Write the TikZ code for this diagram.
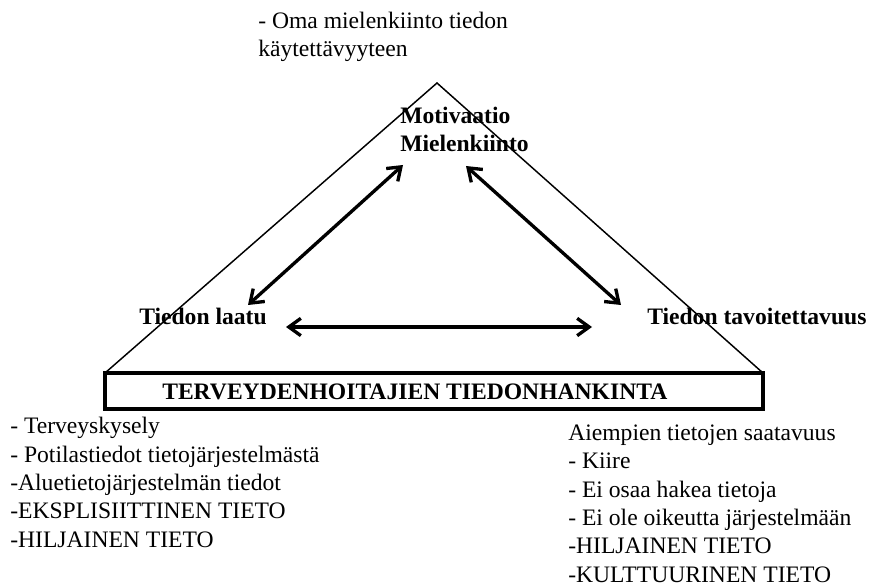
\documentclass[tikz,border=0pt]{standalone}
\usepackage{fontspec}
\setmainfont{Liberation Serif}
\usetikzlibrary{arrows.meta}

\begin{document}
\begin{tikzpicture}[x=0.75pt,y=0.75pt,yscale=-1,xscale=1,
  txt/.style={anchor=base west,inner sep=0pt,align=left,font=\fontsize{17.7}{21.2}\selectfont},
  btxt/.style={txt,font=\fontsize{17.7}{21.2}\selectfont\bfseries},
  dblarr/.style={line width=2.5pt,{Straight Barb[length=9pt,width=13pt]}-{Straight Barb[length=9pt,width=13pt]}}]
\useasboundingbox (0,0) rectangle (869,588);

%Triangle
\coordinate (apex) at (437,83);
\coordinate (bl) at (105,373);
\coordinate (br) at (763,373);
\draw [line width=1.1pt] (bl) -- (apex) -- (br) ;
%Base box
\coordinate (boxbr) at (763,409);
\draw [line width=2.3pt] (bl) rectangle (boxbr) ;

% Text Node (multi-line nodes sit on their last baseline)
\draw (162,400) node [btxt] (base) {TERVEYDENHOITAJIEN TIEDONHANKINTA};
% Text Node
\draw (400,152) node [btxt] (motiv) {Motivaatio\\Mielenkiinto};
% Text Node
\draw (139,325) node [btxt] (laatu) {Tiedon laatu};
% Text Node
\draw (647,325) node [btxt] (tavoit) {Tiedon tavoitettavuus};
% Text Node
\draw (258,57) node [txt] (oma) {- Oma mielenkiinto tiedon\\käytettävyyteen};
% Text Node
\draw (10,547) node [txt] (vas) {- Terveyskysely\\- Potilastiedot tietojärjestelmästä\\-Aluetietojärjestelmän tiedot\\-EKSPLISIITTINEN TIETO\\-HILJAINEN TIETO};
% Text Node
\draw (568,582) node [txt] (oik) {Aiempien tietojen saatavuus\\- Kiire\\- Ei osaa hakea tietoja\\- Ei ole oikeutta järjestelmään\\-HILJAINEN TIETO\\-KULTTUURINEN TIETO};

%Arrows
\coordinate (a1) at (248,305);
\coordinate (a2) at (403,165);
\coordinate (b1) at (466,166);
\coordinate (b2) at (621,305);
\coordinate (c1) at (286,327);
\coordinate (c2) at (592,327);
\draw [dblarr] (a1) -- (a2) ;
\draw [dblarr] (b1) -- (b2) ;
\draw [dblarr] (c1) -- (c2) ;

\end{tikzpicture}
\end{document}
